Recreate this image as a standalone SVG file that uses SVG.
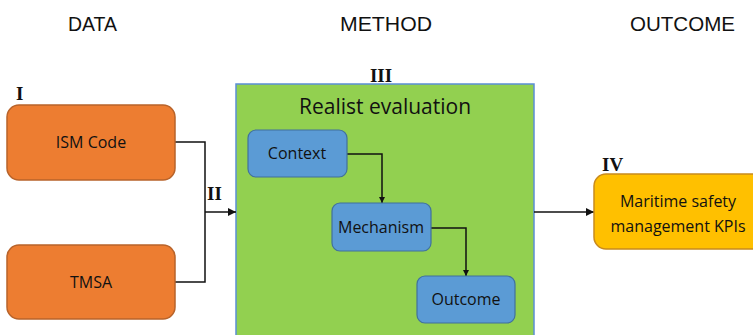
<svg xmlns="http://www.w3.org/2000/svg" width="753" height="335" viewBox="0 0 753 335">
<style>
.hdr{font-family:"Liberation Sans",Arial,sans-serif;font-size:20px;fill:#111}
.num{font-family:"Liberation Serif","Times New Roman",serif;font-size:19px;font-weight:bold;fill:#111}
.lbl{font-family:"Open Sans","Liberation Sans",sans-serif;font-size:16px;fill:#111;text-anchor:middle}
.orange{fill:#ED7D31;stroke:#B8632A;stroke-width:1.5}
.blue{fill:#5B9BD5;stroke:#41719C;stroke-width:1.2}
.green{fill:#92D050;stroke:#5B8FD5;stroke-width:1.5}
.yellow{fill:#FFC000;stroke:#C88A1E;stroke-width:1.5}
.conn{fill:none;stroke:#111;stroke-width:1.5}
</style>
<defs>
<marker id="ah" viewBox="0 0 10 10" refX="10" refY="5" markerWidth="6" markerHeight="6" orient="auto" markerUnits="userSpaceOnUse">
<path d="M0,0 L10,5 L0,10 z" fill="#111"/>
</marker>
<marker id="ah2" viewBox="0 0 10 10" refX="10" refY="5" markerWidth="8" markerHeight="8" orient="auto" markerUnits="userSpaceOnUse">
<path d="M0,0 L10,5 L0,10 z" fill="#111"/>
</marker>
</defs>
<rect width="753" height="335" fill="#fff"/>
<g id="headers">
<text class="hdr" x="68" y="31" textLength="49" lengthAdjust="spacingAndGlyphs">DATA</text>
<text class="hdr" x="340" y="31" textLength="92" lengthAdjust="spacingAndGlyphs">METHOD</text>
<text class="hdr" x="630" y="31" textLength="105" lengthAdjust="spacingAndGlyphs">OUTCOME</text>
</g>
<g id="method">
<rect class="green" x="236" y="84" width="298" height="260"/>
<text class="num" x="381" y="82" text-anchor="middle">III</text>
<text x="385" y="114" text-anchor="middle" style="font-family:'Open Sans','Liberation Sans',sans-serif;font-size:21px;fill:#111">Realist evaluation</text>
</g>
<g id="connectors">
<path class="conn" d="M175,142 H205 V282 H175"/>
<path class="conn" d="M205,212 H236" marker-end="url(#ah2)"/>
<path class="conn" d="M347,154 H382 V203" stroke-width="1.2" marker-end="url(#ah)"/>
<path class="conn" d="M431,228 H466 V276" stroke-width="1.2" marker-end="url(#ah)"/>
<path class="conn" d="M534,212 H594" marker-end="url(#ah2)"/>
</g>
<g id="ism">
<text class="num" x="16" y="100">I</text>
<rect class="orange" x="7" y="105" width="168" height="75" rx="12"/>
<text class="lbl" x="91" y="148">ISM Code</text>
</g>
<g id="tmsa">
<rect class="orange" x="7" y="245" width="168" height="74" rx="12"/>
<text class="lbl" x="91" y="288">TMSA</text>
</g>
<g id="ii"><text class="num" x="207" y="200">II</text></g>
<g id="context">
<rect class="blue" x="248" y="130" width="99" height="47" rx="8"/>
<text class="lbl" x="297" y="159">Context</text>
</g>
<g id="mechanism">
<rect class="blue" x="332" y="203" width="99" height="48" rx="8"/>
<text class="lbl" x="381" y="233">Mechanism</text>
</g>
<g id="outcome">
<rect class="blue" x="417" y="276" width="98" height="47" rx="8"/>
<text class="lbl" x="466" y="305">Outcome</text>
</g>
<g id="kpis">
<text class="num" x="602" y="171">IV</text>
<rect class="yellow" x="594" y="174" width="170" height="75" rx="12"/>
<text class="lbl" x="678" y="207">Maritime safety</text>
<text class="lbl" x="678" y="232">management KPIs</text>
</g>
</svg>
